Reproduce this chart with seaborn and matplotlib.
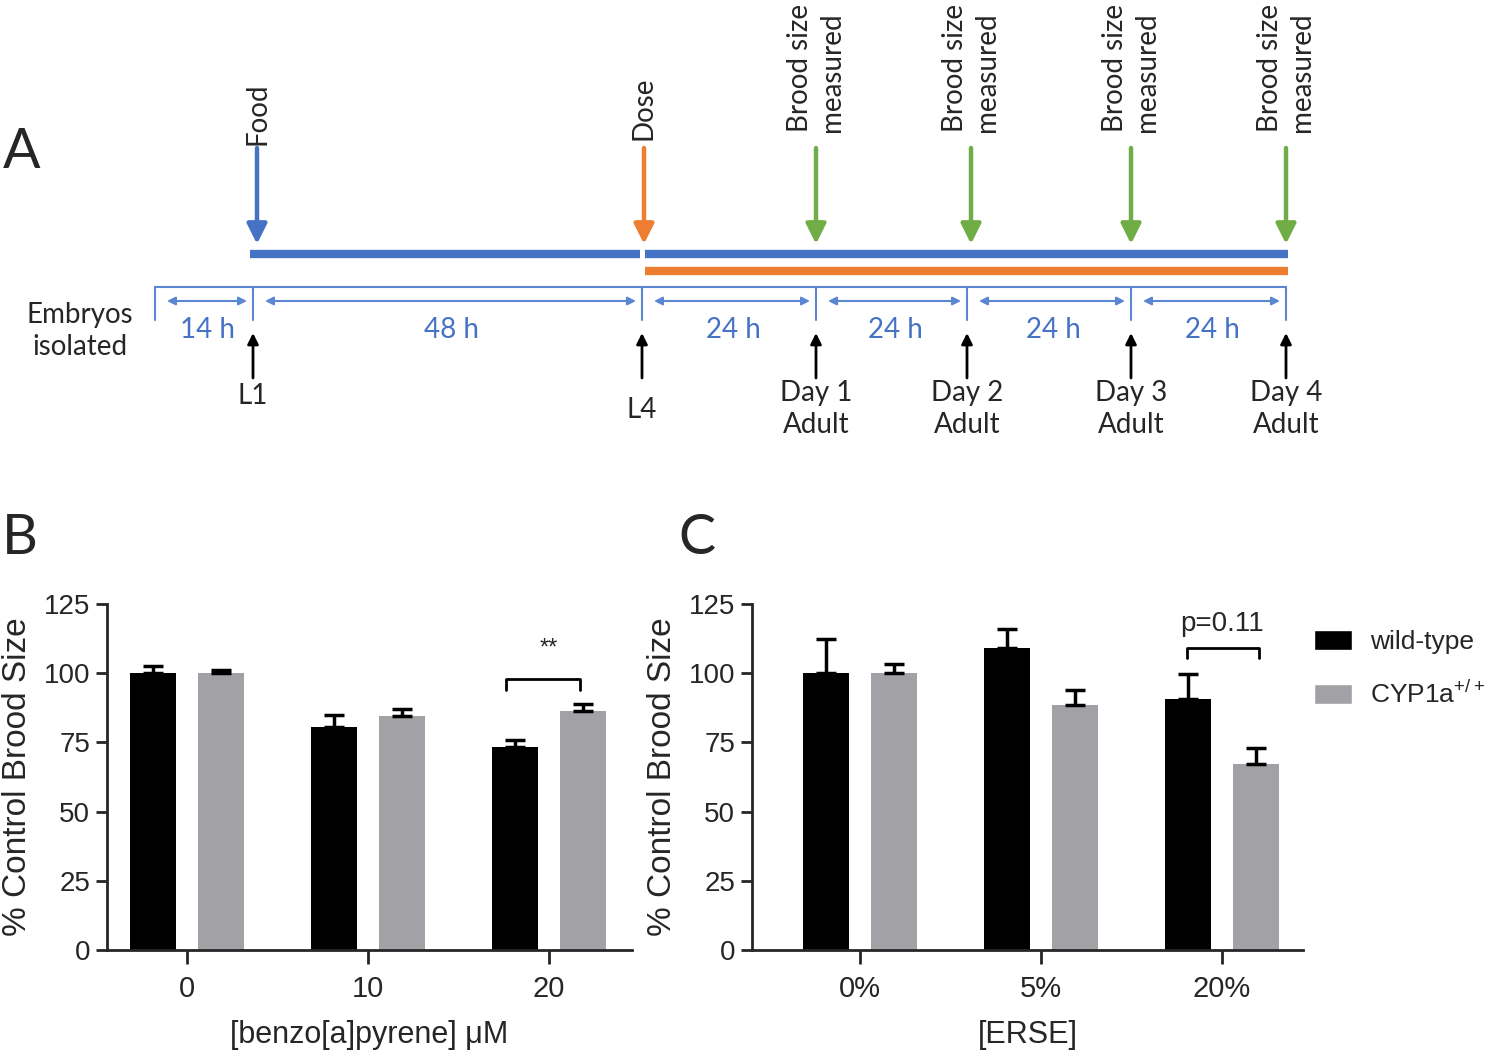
import numpy as np
import pandas as pd
import matplotlib
matplotlib.use('Agg')
import matplotlib.pyplot as plt
import seaborn as sns
from matplotlib.patches import Patch

sns.set_style('ticks')
plt.rcParams['font.family'] = ['Liberation Sans', 'DejaVu Sans']

# ---- data ----
strains = ['wild-type', 'CYP1a']
legend_labels = ['wild-type', r'CYP1a$^\mathregular{+/+}$']

bap_dose = ['0', '10', '20']
bap_wt = [100, 80.5, 73.5]
bap_wt_sem = [2.5, 4.5, 2.3]
bap_cyp = [100, 84.5, 86.3]
bap_cyp_sem = [1.0, 2.5, 2.5]

erse_dose = ['0%', '5%', '20%']
erse_wt = [100, 109, 90.7]
erse_wt_sem = [12.5, 7.0, 9.0]
erse_cyp = [100, 88.5, 67.3]
erse_cyp_sem = [3.5, 5.5, 5.5]

# timeline schematic (panel A)
stage_x = [155, 253, 642, 816, 967, 1131, 1286]
stage_names = ['', 'L1', 'L4', 'Day 1\nAdult', 'Day 2\nAdult', 'Day 3\nAdult', 'Day 4\nAdult']
gap_names = ['14 h', '48 h', '24 h', '24 h', '24 h', '24 h']
brood_x = [816, 971, 1131, 1286]

BLACK = '#000000'
GREY = '#a2a2a6'
BLUE = '#4472C4'
LBLUE = '#5a86d2'
ORANGE = '#ED7D31'
GREEN = '#70AD47'
TLFONT = ['Lato', 'DejaVu Sans']
SANS = ['Liberation Sans', 'DejaVu Sans']

fig = plt.figure(figsize=(15, 10.51), dpi=100)

# ---------------- panel A ----------------
axA = fig.add_axes([0, 0, 1, 1])
axA.set_xlim(0, 1500)
axA.set_ylim(1051, 0)
axA.axis('off')


def down_arrow(x, color, y0=148, y1=244):
    axA.annotate('', xy=(x, y1), xytext=(x, y0),
                 arrowprops=dict(arrowstyle='-|>', color=color, lw=3.2, mutation_scale=30,
                                 shrinkA=0, shrinkB=0))


down_arrow(257, BLUE)
axA.text(257, 145, 'Food', rotation=90, ha='center', va='bottom', fontsize=20, family=TLFONT)
down_arrow(644, ORANGE)
axA.text(644, 140, 'Dose', rotation=90, ha='center', va='bottom', fontsize=20, family=TLFONT)
for x in brood_x:
    down_arrow(x, GREEN)
    axA.text(x, 132, 'Brood size\nmeasured', rotation=90, ha='center', va='bottom',
             multialignment='left', fontsize=20, family=TLFONT, linespacing=1.25)

# exposure bars
axA.plot([250, 640], [254, 254], color=BLUE, lw=6, solid_capstyle='butt')
axA.plot([645, 1288], [254, 254], color=BLUE, lw=6, solid_capstyle='butt')
axA.plot([645, 1288], [271, 271], color=ORANGE, lw=6, solid_capstyle='butt')

# time axis
axA.plot([stage_x[0], stage_x[-1]], [287, 287], color=LBLUE, lw=1.5)
for x in stage_x:
    axA.plot([x, x], [287, 320], color=LBLUE, lw=1.5)
for i, lab in enumerate(gap_names):
    a, b = stage_x[i], stage_x[i + 1]
    axA.annotate('', xy=(b - 6, 301), xytext=(a + 12, 301),
                 arrowprops=dict(arrowstyle='<|-|>', color=LBLUE, lw=1.5, mutation_scale=12,
                                 shrinkA=0, shrinkB=0))
    axA.text((a + b) / 2 + 4, 330, lab, ha='center', va='center', fontsize=20,
             color=BLUE, family=TLFONT)

for x, name in zip(stage_x[1:], stage_names[1:]):
    axA.annotate('', xy=(x, 333), xytext=(x, 378),
                 arrowprops=dict(arrowstyle='-|>', color='black', lw=2, mutation_scale=16,
                                 shrinkA=0, shrinkB=0))
    if '\n' in name:
        axA.text(x, 380, name, ha='center', va='top', fontsize=20, family=TLFONT, linespacing=1.3)
    else:
        yt = 410 if name == 'L4' else 396
        axA.text(x, yt, name, ha='center', va='center', fontsize=20, family=TLFONT)

axA.text(80, 331, 'Embryos\nisolated', ha='center', va='center', fontsize=20,
         family=TLFONT, linespacing=1.3)

fig.text(22 / 1500, 1 - 152 / 1051, 'A', ha='center', va='center', fontsize=40, family=TLFONT)
fig.text(20 / 1500, 1 - 538 / 1051, 'B', ha='center', va='center', fontsize=40, family=TLFONT)
fig.text(697 / 1500, 1 - 538 / 1051, 'C', ha='center', va='center', fontsize=40, family=TLFONT)


# ---------------- panels B & C ----------------
def brood_bars(ax, doses, wt, wt_sem, cyp, cyp_sem, xlabel, xlim):
    df = pd.DataFrame({'dose': doses * 2,
                       'strain': [strains[0]] * len(doses) + [strains[1]] * len(doses),
                       'pct': wt + cyp})
    sns.barplot(data=df, x='dose', y='pct', hue='strain', palette=[BLACK, GREY],
                width=0.75, gap=0.32, errorbar=None, legend=False, saturation=1,
                linewidth=0, ax=ax)
    sems = wt_sem + cyp_sem
    xs = [p.get_x() + p.get_width() / 2 for p in ax.patches]
    tops = [p.get_height() for p in ax.patches]
    ax.errorbar(xs, tops, yerr=[np.zeros(len(sems)), sems], fmt='none', ecolor='black',
                elinewidth=2.5, capsize=7, capthick=2.5, zorder=1)
    ax.set_ylim(0, 125)
    ax.set_yticks(np.arange(0, 126, 25))
    ax.set_xlim(*xlim)
    ax.set_ylabel('% Control Brood Size', fontsize=24, labelpad=8, family=SANS)
    ax.set_xlabel(xlabel, fontsize=22, labelpad=12, family=SANS)
    ax.tick_params(axis='y', labelsize=20, length=8, width=2, pad=4)
    ax.tick_params(axis='x', labelsize=21, length=10, width=2, pad=8)
    for t in ax.get_xticklabels() + ax.get_yticklabels():
        t.set_family(SANS)
    sns.despine(ax=ax)
    for s in ['left', 'bottom']:
        ax.spines[s].set_linewidth(2)
    return xs


axB = fig.add_axes([107 / 1500, 101 / 1051, 525 / 1500, 346 / 1051])
xsB = brood_bars(axB, bap_dose, bap_wt, bap_wt_sem, bap_cyp, bap_cyp_sem,
                 '[benzo[a]pyrene] μM', (-0.442, 2.459))
axB.plot([xsB[2] - 0.05, xsB[2] - 0.05, xsB[5] - 0.015, xsB[5] - 0.015], [94, 98, 98, 94],
         color='black', lw=2)
axB.text(2, 105, '**', ha='center', va='bottom', fontsize=17)

axC = fig.add_axes([752 / 1500, 101 / 1051, 551 / 1500, 346 / 1051])
xsC = brood_bars(axC, erse_dose, erse_wt, erse_wt_sem, erse_cyp, erse_cyp_sem,
                 '[ERSE]', (-0.597, 2.448))
axC.plot([xsC[2] - 0.005, xsC[2] - 0.005, xsC[5] + 0.015, xsC[5] + 0.015],
         [105.5, 109, 109, 105.5], color='black', lw=2)
axC.text(2, 113, 'p=0.11', ha='center', va='bottom', fontsize=20)

handles = [Patch(facecolor=BLACK), Patch(facecolor=GREY)]
fig.legend(handles, legend_labels, loc='upper left', bbox_to_anchor=(1290 / 1500, 1 - 606 / 1051),
           frameon=False, prop={'family': SANS, 'size': 19}, handlelength=1.45, handleheight=0.8,
           labelspacing=1.0, handletextpad=0.7)

fig.savefig('out.png', dpi=100)
